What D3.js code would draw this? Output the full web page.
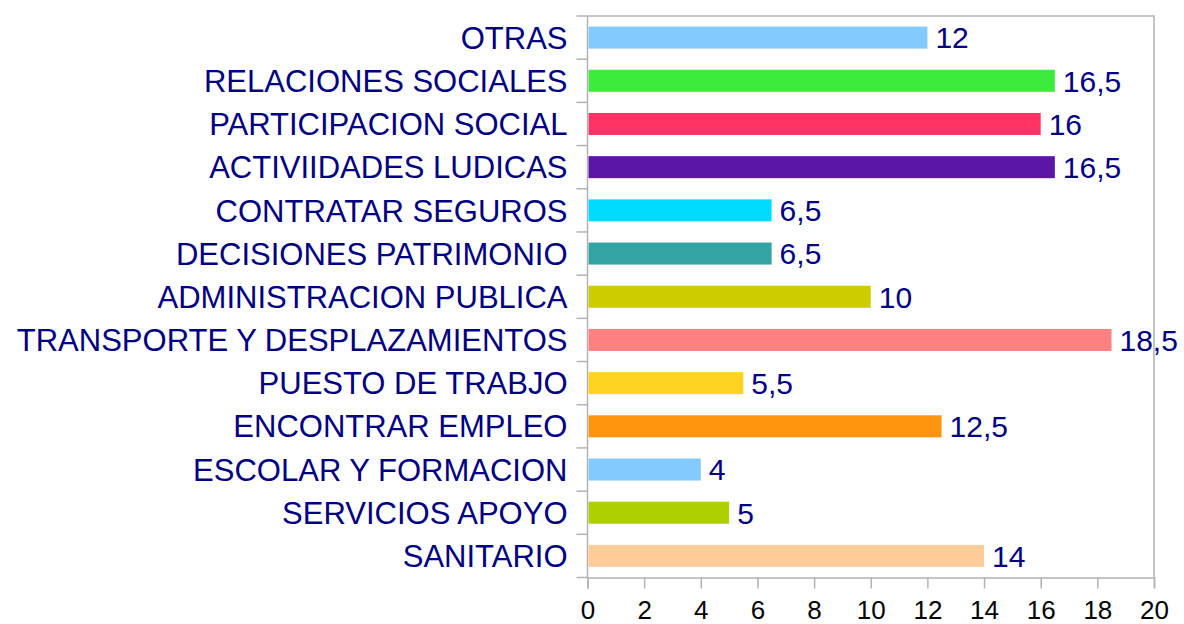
<!DOCTYPE html>
<html>
<head>
<meta charset="utf-8">
<script src="https://cdn.jsdelivr.net/npm/d3@7"></script>
<style>
  body { margin: 0; background: #fff; }
  text { font-family: "Liberation Sans", Arial, sans-serif; }
</style>
</head>
<body>
<div id="chart"></div>
<script>
let categories = ["OTRAS", "RELACIONES SOCIALES", "PARTICIPACION SOCIAL", "ACTIVIIDADES LUDICAS",
  "CONTRATAR SEGUROS", "DECISIONES PATRIMONIO", "ADMINISTRACION PUBLICA",
  "TRANSPORTE Y DESPLAZAMIENTOS", "PUESTO DE TRABJO", "ENCONTRAR EMPLEO",
  "ESCOLAR Y FORMACION", "SERVICIOS APOYO", "SANITARIO"]
let values = [12, 16.5, 16, 16.5, 6.5, 6.5, 10, 18.5, 5.5, 12.5, 4, 5, 14]
let valueLabels = ["12", "16,5", "16", "16,5", "6,5", "6,5", "10", "18,5", "5,5", "12,5", "4", "5", "14"]
let colors = ["#83caff", "#3deb3d", "#ff3366", "#5c16a6", "#00dcff", "#33a3a3", "#cccc00",
  "#ff8080", "#ffd320", "#ff950e", "#83caff", "#aecf00", "#ffcc99"]
let xTicks = [0, 2, 4, 6, 8, 10, 12, 14, 16, 18, 20]

let width = 1184
let height = 624
let plotLeft = 587.5, plotRight = 1154, plotTop = 16, plotBottom = 577.5

let svg = d3.select("#chart")
  .append("svg")
  .attr("width", width)
  .attr("height", height)

let x = d3.scaleLinear()
  .domain([0, 20])
  .range([plotLeft, plotRight])

let y = d3.scaleBand()
  .domain(categories)
  .range([plotTop, plotBottom])
  .paddingInner(0.49)
  .paddingOuter(0.245)

let gridColor = "#b3b3b3"

// plot frame (top and right)
svg.append("path")
  .attr("d", `M ${plotLeft} ${plotTop} H ${plotRight} V ${plotBottom}`)
  .attr("fill", "none")
  .attr("stroke", gridColor)
  .attr("stroke-width", 1.5)

// category axis with ticks at band boundaries
let bounds = d3.range(categories.length + 1).map(i => plotTop + i * y.step())
svg.append("line")
  .attr("x1", plotLeft).attr("x2", plotLeft)
  .attr("y1", plotTop).attr("y2", plotBottom)
  .attr("stroke", gridColor).attr("stroke-width", 1.5)
svg.selectAll(".ytick")
  .data(bounds)
  .join("line")
  .attr("class", "ytick")
  .attr("x1", plotLeft - 11).attr("x2", plotLeft)
  .attr("y1", d => d).attr("y2", d => d)
  .attr("stroke", gridColor).attr("stroke-width", 1.5)

svg.selectAll(".cat")
  .data(categories)
  .join("text")
  .attr("class", "cat")
  .attr("x", plotLeft - 20)
  .attr("y", d => y(d) + y.bandwidth() / 2)
  .attr("dy", "0.36em")
  .attr("text-anchor", "end")
  .attr("font-size", 31)
  .attr("fill", "#000080")
  .text(d => d)

// value axis
let xAxis = svg.append("g")
  .attr("transform", `translate(0,${plotBottom})`)
  .call(d3.axisBottom(x).tickValues(xTicks).tickSize(11).tickPadding(12).tickFormat(d3.format("d")))
xAxis.select(".domain").attr("stroke", gridColor).attr("stroke-width", 1.5)
xAxis.selectAll(".tick line").attr("stroke", gridColor).attr("stroke-width", 1.5)
xAxis.selectAll(".tick text")
  .attr("font-size", 26)
  .attr("font-family", "Liberation Sans, Arial, sans-serif")
  .attr("fill", "#000")

// bars
svg.selectAll(".bar")
  .data(values)
  .join("rect")
  .attr("class", "bar")
  .attr("x", x(0) + 1)
  .attr("y", (d, i) => y(categories[i]))
  .attr("width", d => x(d) - x(0) - 1)
  .attr("height", y.bandwidth())
  .attr("fill", (d, i) => colors[i])

svg.selectAll(".val")
  .data(values)
  .join("text")
  .attr("class", "val")
  .attr("x", d => x(d) + 8)
  .attr("y", (d, i) => y(categories[i]) + y.bandwidth() / 2)
  .attr("dy", "0.36em")
  .attr("font-size", 30)
  .attr("fill", "#000080")
  .text((d, i) => valueLabels[i])
</script>
</body>
</html>
